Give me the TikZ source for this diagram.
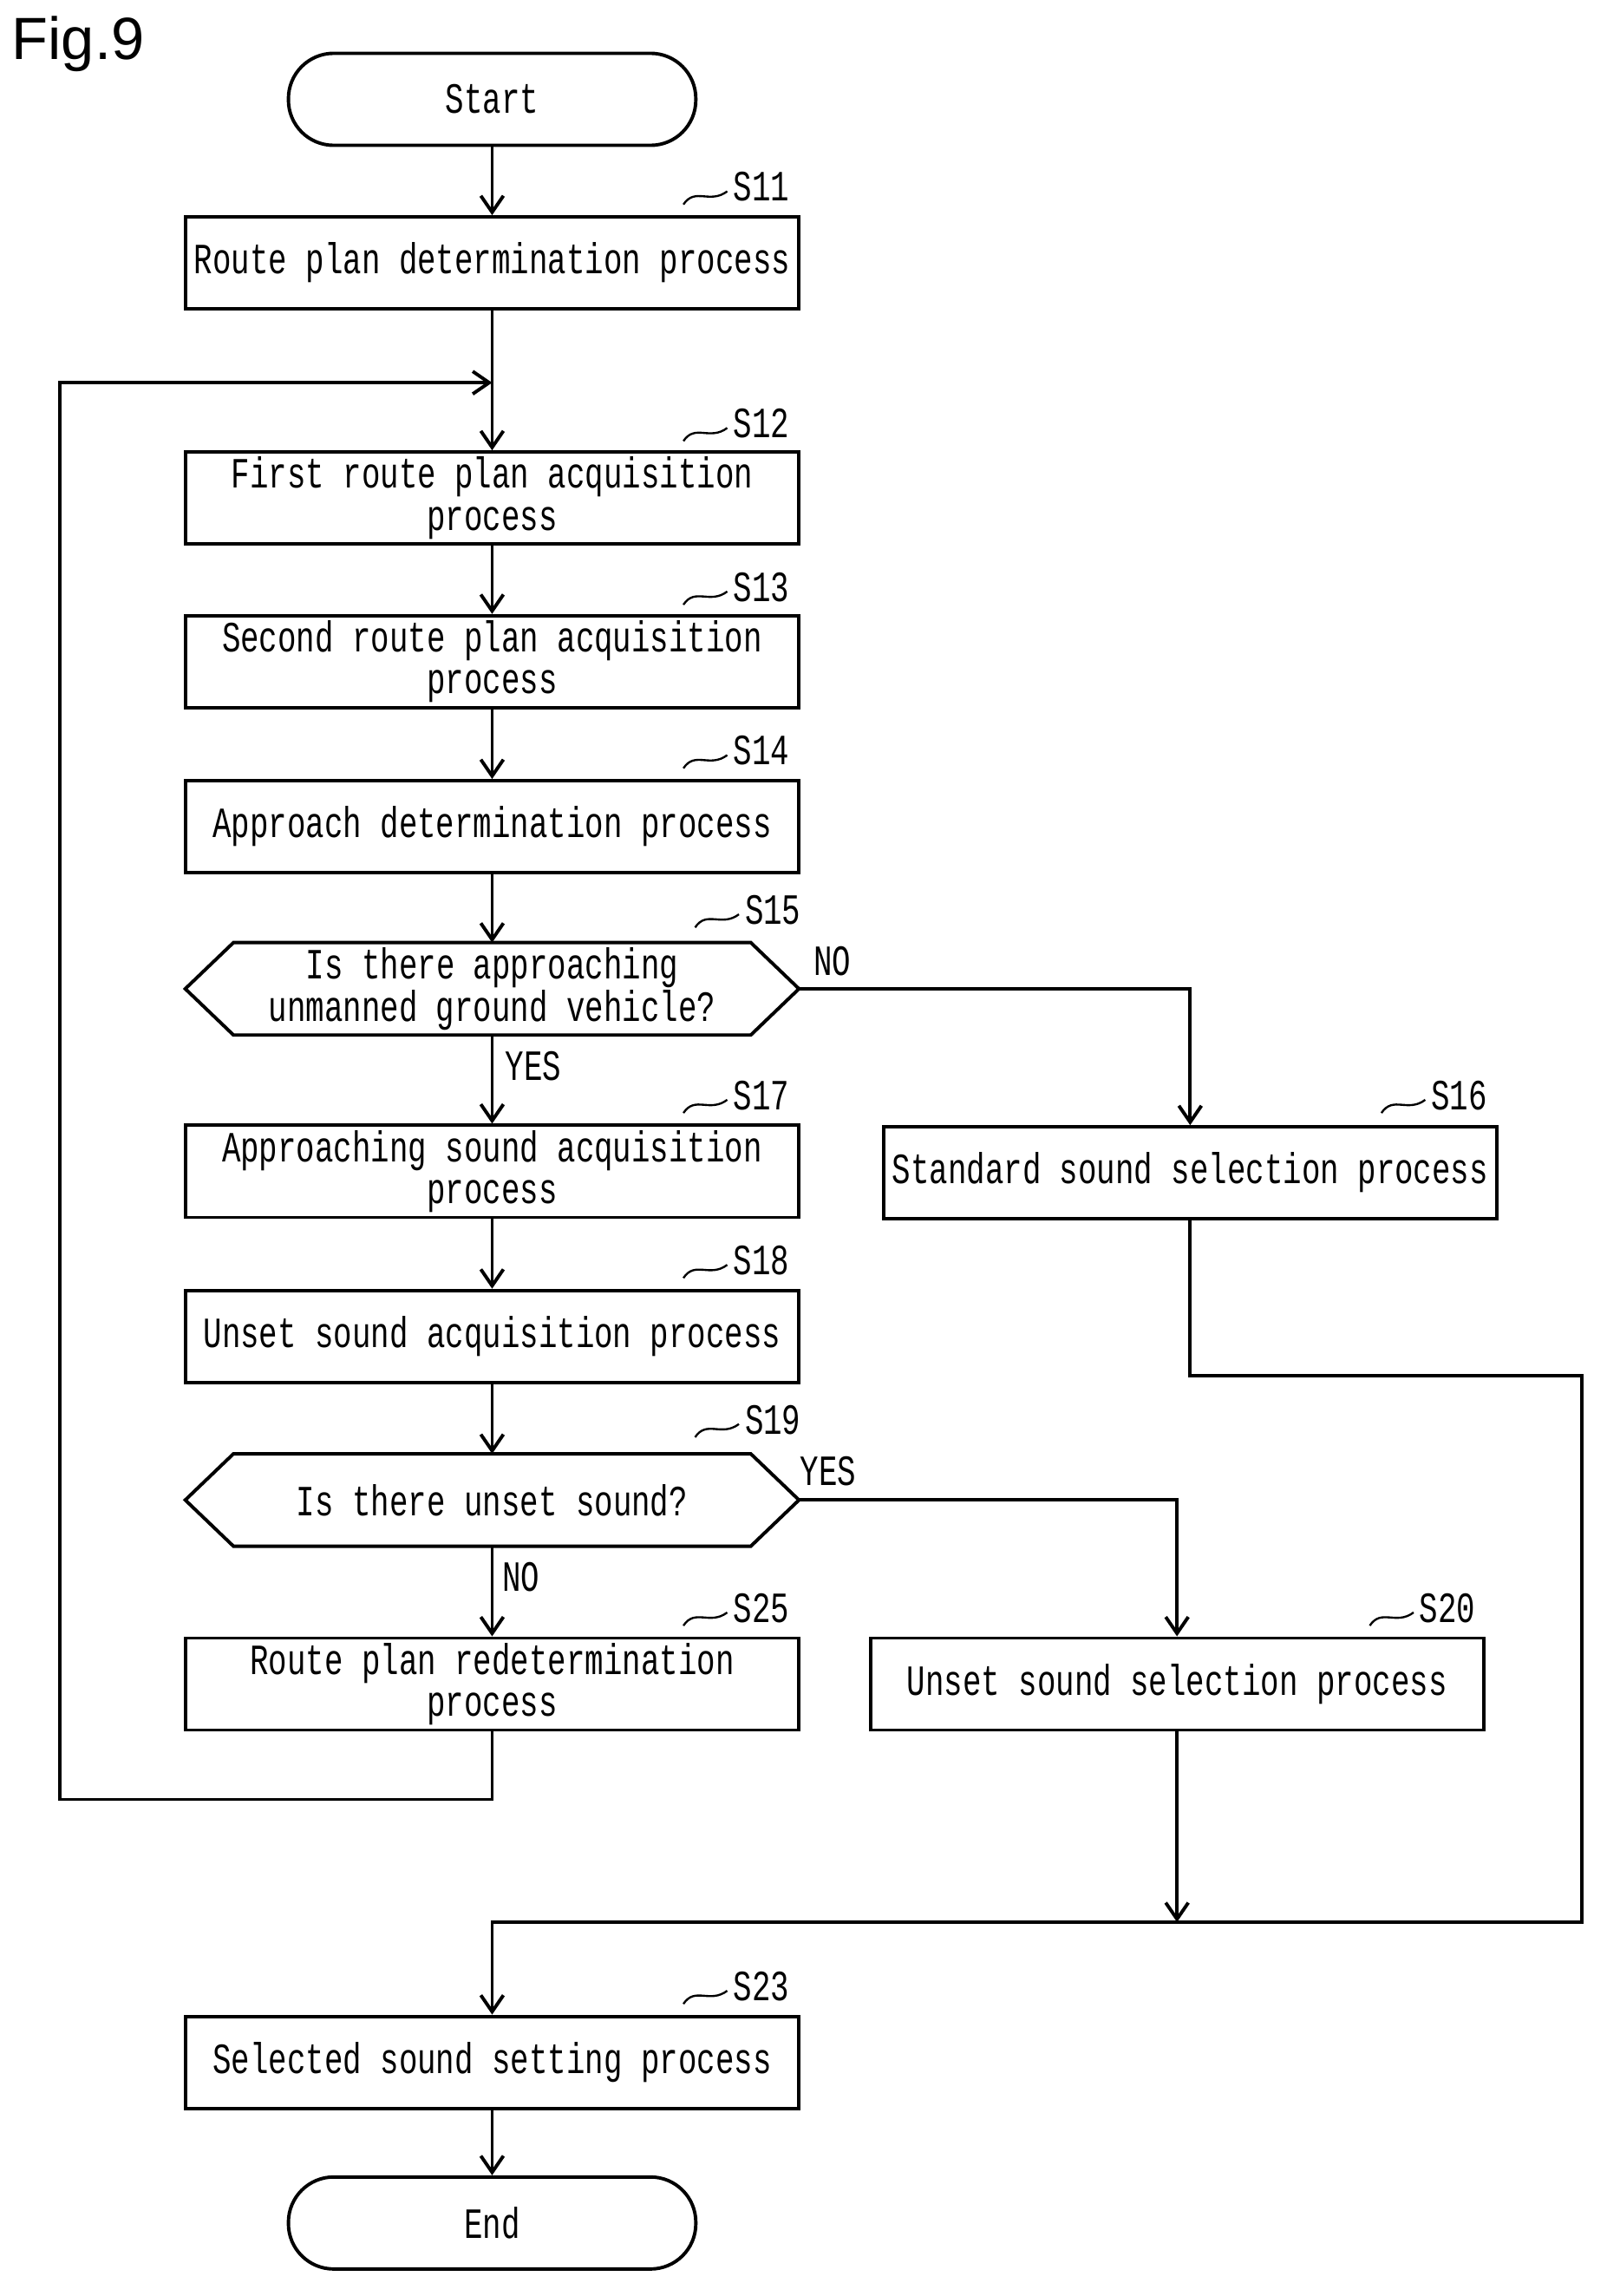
\documentclass[tikz,border=0pt]{standalone}
\usepackage{fontspec}
\setmonofont[FakeStretch=0.72]{Liberation Mono}
\setsansfont{Liberation Sans}
\usetikzlibrary{arrows.meta,calc}
\begin{document}
\begin{tikzpicture}[x=0.05cm,y=-0.05cm,
  every node/.style={font=\fontsize{42}{41}\selectfont\ttfamily},
  ln/.style={line width=3.3pt},
  ar/.style={ln,-{Straight Barb[length=16pt,width=22pt,line width=3.3pt]}},
  box/.style={ln,draw,minimum width=21cm,minimum height=3.15cm,inner sep=0pt,align=center},
  term/.style={ln,draw,rounded corners=1.55cm,minimum width=13.95cm,minimum height=3.15cm,inner sep=0pt},
  dia/.style={minimum width=21cm,minimum height=3.15cm,inner sep=0pt,align=center},
  lab/.style={anchor=west,inner sep=0pt},
  yn/.style={anchor=west,inner sep=0pt},
  tl/.style={line width=2pt}]
\useasboundingbox (0,0) rectangle (1100,1572);
\node[font=\fontsize{58}{60}\selectfont\sffamily,anchor=west,inner sep=0pt] (fig) at (8,30) {Fig.9};
\node[term] (start) at (337,68) {Start};
\node[box] (s11) at (337,180) {Route plan determination process};
\node[box] (s12) at (337,341) {First route plan acquisition\\process};
\node[box] (s13) at (337,453) {Second route plan acquisition\\process};
\node[box] (s14) at (337,566) {Approach determination process};
\node[dia] (s15) at (337,677) {Is there approaching\\unmanned ground vehicle?};
\node[box] (s17) at (337,802) {Approaching sound acquisition\\process};
\node[box] (s18) at (337,915) {Unset sound acquisition process};
\node[dia] (s19) at (337,1027) {Is there unset sound?};
\node[box] (s25) at (337,1153) {Route plan redetermination\\process};
\node[box] (s16) at (815,803) {Standard sound selection process};
\node[box] (s20) at (806,1153) {Unset sound selection process};
\node[box] (s23) at (337,1412) {Selected sound setting process};
\node[term] (end) at (337,1522) {End};
\foreach \d in {s15,s19}{
  \draw[ln] (\d.west) -- ($(\d.north west)+(33,0)$) -- ($(\d.north east)+(-33,0)$) -- (\d.east)
    -- ($(\d.south east)+(-33,0)$) -- ($(\d.south west)+(33,0)$) -- cycle;}
% step labels
\foreach \n/\x/\y/\t in {l11/502/128/S11,l12/502/290/S12,l13/502/402/S13,l14/502/514/S14,l15/510/623/S15,
  l17/502/750/S17,l18/502/863/S18,l19/510/972/S19,l25/502/1101/S25,l16/980/750/S16,l20/972/1101/S20,l23/502/1360/S23}{
  \node[lab] (\n) at (\x,\y) {\t};
  \draw[tl] ($(\n.west)+(-34,12)$) .. controls ($(\n.west)+(-26,0)$) and ($(\n.west)+(-16,12)$) .. ($(\n.west)+(-4,3)$);}
% connectors
\coordinate (j1) at (337,262);
\coordinate (lp1) at (41,262);
\coordinate (lp2) at (41,1232);
\coordinate (r1) at (1083,942);
\coordinate (r2) at (1083,1316);
\coordinate (m) at (806,1316);
\draw[ar] (start) -- (s11);
\draw[ar] (s11) -- (s12);
\draw[ar] (s12) -- (s13);
\draw[ar] (s13) -- (s14);
\draw[ar] (s14) -- (s15.north);
\draw[ar] (s15.south) -- (s17);
\draw[ar] (s17) -- (s18);
\draw[ar] (s18) -- (s19.north);
\draw[ar] (s19.south) -- (s25);
\draw[ar] (s15.east) -| (s16.north);
\draw[ar] (s19.east) -| (s20.north);
\draw[ar] (s25.south) |- (lp2) -- (lp1) -- (j1);
\draw[ln] (s16.south) |- (r1) -- (r2) -- (m);
\draw[ar] (s20.south) -- (m);
\draw[ar] (m) -| (s23.north);
\draw[ar] (s23) -- (end);
\node[yn] (no1) at (557,658) {NO};
\node[yn] (yes1) at (346,730) {YES};
\node[yn] (yes2) at (548,1007) {YES};
\node[yn] (no2) at (344,1080) {NO};
\end{tikzpicture}
\end{document}
